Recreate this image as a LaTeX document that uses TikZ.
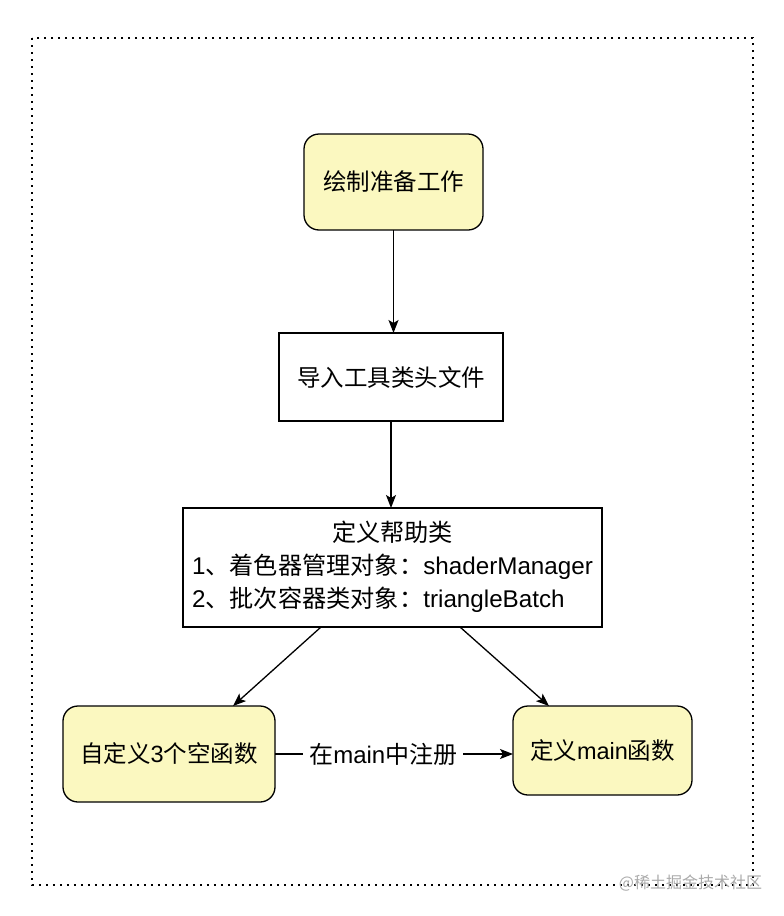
\documentclass[tikz,border=0pt]{standalone}
\usepackage{fontspec}
\setmainfont{Noto Sans CJK SC}
\newfontfamily\lat{Liberation Sans}
\usetikzlibrary{arrows.meta}
\definecolor{noteyellow}{RGB}{251,248,192}
\definecolor{wmgray}{RGB}{170,170,170}
\tikzset{
  every node/.style={font=\fontsize{23.5}{33}\selectfont, inner sep=0pt, outer sep=0pt},
  startbox/.style={draw=black, line width=1.3pt, rounded corners=15pt, fill=noteyellow},
  plainbox/.style={draw=black, line width=1.3pt, fill=white},
  arr/.style={draw=black, line width=1.3pt, -{Stealth[length=13pt,width=10pt,inset=3pt]}},
  border/.style={draw=black, line width=1.3pt, dash pattern=on 1.6pt off 5.4pt}
}
\begin{document}
\begin{tikzpicture}[x=1pt,y=-1pt]
\useasboundingbox (0,0) rectangle (784,916);
\fill[white] (0,0) rectangle (784,916);
\draw[border] (32,38) rectangle (753,885);

\node[startbox, minimum width=179pt, minimum height=96pt] (prep) at (393.5,182) {绘制准备工作};
\node[plainbox, minimum width=224pt, minimum height=88pt] (imp) at (391,377) {导入工具类头文件};
\node[plainbox, minimum width=419pt, minimum height=119pt, font=\fontsize{24.2}{33}\selectfont] (help) at (392.5,567.5)
  {\begin{tabular}{@{}l@{}}\multicolumn{1}{@{}c@{}}{定义帮助类}\\{\lat 1}、着色器管理对象：{\lat shaderManager}\\{\lat 2}、批次容器类对象：{\lat triangleBatch}\end{tabular}};
\node[startbox, minimum width=212pt, minimum height=96pt] (empty) at (169,754) {自定义{\lat 3}个空函数};
\node[startbox, minimum width=179pt, minimum height=89pt] (mainf) at (602.5,750.5) {定义{\lat main}函数};

\draw[arr] (prep.south) -- (prep.south |- imp.north);
\draw[arr] (imp.south) -- (imp.south |- help.north);
\draw[arr] ([xshift=-71.5pt]help.south) -- ([xshift=64pt]empty.north);
\draw[arr] ([xshift=67.5pt]help.south) -- ([xshift=-53.5pt]mainf.north);
\draw[arr] (empty.east) -- node[pos=0.455, fill=white, inner xsep=6pt, inner ysep=4pt, font=\fontsize{24}{30}\selectfont] {在{\lat main}中注册} (empty.east -| mainf.west);

\node[font=\fontsize{16}{18}\selectfont, text=wmgray, anchor=east] (wm) at (762,883) {@稀土掘金技术社区};
\end{tikzpicture}
\end{document}
